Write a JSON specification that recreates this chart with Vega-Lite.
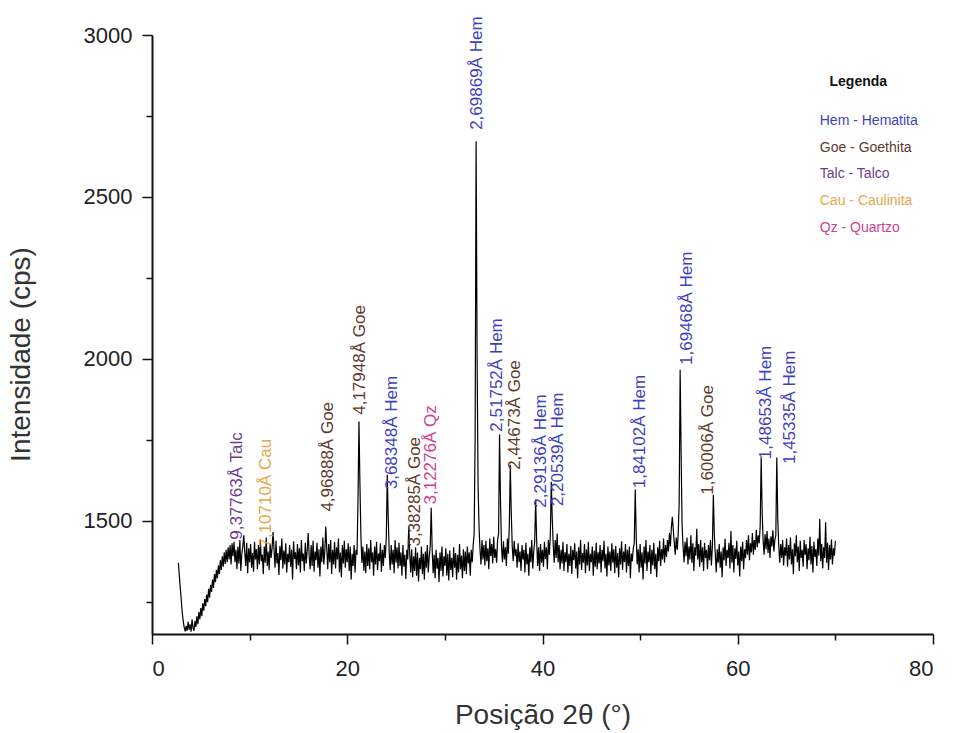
{
"$schema": "https://vega.github.io/schema/vega-lite/v6.json",
"width": 781,
"height": 599,
"autosize": {"type": "none"},
"padding": {"left": 152, "top": 35, "right": 22, "bottom": 99},
"background": "white",
"config": {"view": {"stroke": null}, "font": "Liberation Sans"},
"datasets": {
"spectrum": [
{"t":2.7,"v":1370},{"t":2.8,"v":1330},{"t":2.9,"v":1290},{"t":3.0,"v":1255},{"t":3.1,"v":1215},{"t":3.2,"v":1190},{"t":3.3,"v":1170},{"t":3.4,"v":1158},{"t":3.5,"v":1175},{"t":3.6,"v":1160},{"t":3.7,"v":1188},{"t":3.8,"v":1163},{"t":3.9,"v":1180},{"t":4.0,"v":1157},{"t":4.1,"v":1195},{"t":4.2,"v":1168},{"t":4.3,"v":1160},{"t":4.4,"v":1190},{"t":4.5,"v":1172},{"t":4.6,"v":1205},{"t":4.7,"v":1180},{"t":4.8,"v":1218},{"t":4.9,"v":1196},{"t":5.0,"v":1230},{"t":5.1,"v":1205},{"t":5.2,"v":1245},{"t":5.3,"v":1222},{"t":5.4,"v":1258},{"t":5.5,"v":1236},{"t":5.6,"v":1272},{"t":5.7,"v":1248},{"t":5.8,"v":1290},{"t":5.9,"v":1262},{"t":6.0,"v":1302},{"t":6.1,"v":1280},{"t":6.2,"v":1318},{"t":6.3,"v":1292},{"t":6.4,"v":1335},{"t":6.5,"v":1310},{"t":6.6,"v":1348},{"t":6.7,"v":1322},{"t":6.8,"v":1362},{"t":6.9,"v":1335},{"t":7.0,"v":1378},{"t":7.1,"v":1348},{"t":7.2,"v":1390},{"t":7.3,"v":1358},{"t":7.4,"v":1402},{"t":7.5,"v":1366},{"t":7.6,"v":1410},{"t":7.7,"v":1372},{"t":7.8,"v":1418},{"t":7.9,"v":1380},{"t":8.0,"v":1425},{"t":8.1,"v":1365},{"t":8.2,"v":1430},{"t":8.3,"v":1390},{"t":8.4,"v":1435},{"t":8.5,"v":1372},
{"t":8.6,"v":1410},{"t":8.7,"v":1350},{"t":8.8,"v":1420},{"t":8.9,"v":1368},{"t":9.0,"v":1440},{"t":9.1,"v":1345},{"t":9.2,"v":1398},{"t":9.3,"v":1420},{"t":9.4,"v":1455},{"t":9.5,"v":1405},{"t":9.6,"v":1360},{"t":9.7,"v":1432},{"t":9.8,"v":1338},{"t":9.9,"v":1415},{"t":10.0,"v":1372},{"t":10.1,"v":1428},{"t":10.2,"v":1355},{"t":10.3,"v":1400},{"t":10.4,"v":1342},{"t":10.5,"v":1435},{"t":10.6,"v":1380},{"t":10.7,"v":1412},{"t":10.8,"v":1350},{"t":10.9,"v":1425},{"t":11.0,"v":1365},{"t":11.1,"v":1440},{"t":11.2,"v":1375},{"t":11.3,"v":1395},{"t":11.4,"v":1335},{"t":11.5,"v":1420},{"t":11.6,"v":1370},{"t":11.7,"v":1448},{"t":11.8,"v":1360},{"t":11.9,"v":1405},{"t":12.0,"v":1348},{"t":12.1,"v":1430},{"t":12.2,"v":1385},{"t":12.3,"v":1415},{"t":12.4,"v":1465},{"t":12.5,"v":1410},{"t":12.6,"v":1355},{"t":12.7,"v":1438},{"t":12.8,"v":1368},{"t":12.9,"v":1400},{"t":13.0,"v":1332},{"t":13.1,"v":1422},{"t":13.2,"v":1378},{"t":13.3,"v":1445},{"t":13.4,"v":1352},{"t":13.5,"v":1408},{"t":13.6,"v":1365},{"t":13.7,"v":1430},{"t":13.8,"v":1340},{"t":13.9,"v":1398},{"t":14.0,"v":1372},{"t":14.1,"v":1425},{"t":14.2,"v":1358},{"t":14.3,"v":1410},{"t":14.4,"v":1318},{"t":14.5,"v":1436},{"t":14.6,"v":1382},{"t":14.7,"v":1402},{"t":14.8,"v":1350},{"t":14.9,"v":1428},{"t":15.0,"v":1362},{"t":15.1,"v":1415},{"t":15.2,"v":1340},{"t":15.3,"v":1440},{"t":15.4,"v":1375},{"t":15.5,"v":1398},{"t":15.6,"v":1345},{"t":15.7,"v":1432},{"t":15.8,"v":1368},{"t":15.9,"v":1410},{"t":16.0,"v":1462},{"t":16.1,"v":1390},{"t":16.2,"v":1350},{"t":16.3,"v":1425},{"t":16.4,"v":1360},{"t":16.5,"v":1438},{"t":16.6,"v":1342},{"t":16.7,"v":1405},{"t":16.8,"v":1378},{"t":16.9,"v":1432},{"t":17.0,"v":1355},{"t":17.1,"v":1412},{"t":17.2,"v":1328},{"t":17.3,"v":1420},{"t":17.4,"v":1372},{"t":17.5,"v":1448},{"t":17.6,"v":1365},{"t":17.7,"v":1405},{"t":17.8,"v":1482},{"t":17.9,"v":1415},{"t":18.0,"v":1350},{"t":18.1,"v":1428},{"t":18.2,"v":1372},{"t":18.3,"v":1440},{"t":18.4,"v":1335},{"t":18.5,"v":1410},{"t":18.6,"v":1365},{"t":18.7,"v":1435},{"t":18.8,"v":1352},{"t":18.9,"v":1418},{"t":19.0,"v":1380},{"t":19.1,"v":1445},{"t":19.2,"v":1340},{"t":19.3,"v":1402},{"t":19.4,"v":1325},{"t":19.5,"v":1425},{"t":19.6,"v":1368},{"t":19.7,"v":1438},{"t":19.8,"v":1355},{"t":19.9,"v":1412},{"t":20.0,"v":1372},{"t":20.1,"v":1430},{"t":20.2,"v":1345},{"t":20.3,"v":1420},{"t":20.4,"v":1318},{"t":20.5,"v":1398},{"t":20.6,"v":1360},{"t":20.7,"v":1425},{"t":20.8,"v":1340},{"t":20.9,"v":1410},
{"t":21.0,"v":1395},{"t":21.1,"v":1560},{"t":21.2,"v":1806},{"t":21.3,"v":1610},{"t":21.4,"v":1450},{"t":21.5,"v":1370},{"t":21.6,"v":1420},{"t":21.7,"v":1345},{"t":21.8,"v":1405},{"t":21.9,"v":1338},{"t":22.0,"v":1428},{"t":22.1,"v":1360},{"t":22.2,"v":1415},{"t":22.3,"v":1350},{"t":22.4,"v":1440},{"t":22.5,"v":1372},{"t":22.6,"v":1402},{"t":22.7,"v":1330},{"t":22.8,"v":1420},{"t":22.9,"v":1365},{"t":23.0,"v":1435},{"t":23.1,"v":1348},{"t":23.2,"v":1398},{"t":23.3,"v":1375},{"t":23.4,"v":1430},{"t":23.5,"v":1342},{"t":23.6,"v":1410},{"t":23.7,"v":1360},{"t":23.8,"v":1425},{"t":23.9,"v":1385},{"t":24.0,"v":1450},{"t":24.1,"v":1642},{"t":24.2,"v":1505},{"t":24.3,"v":1400},{"t":24.4,"v":1348},{"t":24.5,"v":1425},{"t":24.6,"v":1365},{"t":24.7,"v":1410},{"t":24.8,"v":1338},{"t":24.9,"v":1440},{"t":25.0,"v":1370},{"t":25.1,"v":1418},{"t":25.2,"v":1352},{"t":25.3,"v":1432},{"t":25.4,"v":1360},{"t":25.5,"v":1402},{"t":25.6,"v":1330},{"t":25.7,"v":1425},{"t":25.8,"v":1358},{"t":25.9,"v":1395},{"t":26.0,"v":1320},{"t":26.1,"v":1410},{"t":26.2,"v":1380},{"t":26.3,"v":1482},{"t":26.4,"v":1398},{"t":26.5,"v":1340},{"t":26.6,"v":1412},{"t":26.7,"v":1325},{"t":26.8,"v":1390},{"t":26.9,"v":1345},{"t":27.0,"v":1418},{"t":27.1,"v":1330},{"t":27.2,"v":1402},{"t":27.3,"v":1312},{"t":27.4,"v":1385},{"t":27.5,"v":1350},{"t":27.6,"v":1420},{"t":27.7,"v":1335},{"t":27.8,"v":1398},{"t":27.9,"v":1318},{"t":28.0,"v":1405},{"t":28.1,"v":1355},{"t":28.2,"v":1425},{"t":28.3,"v":1340},{"t":28.4,"v":1390},{"t":28.5,"v":1420},{"t":28.6,"v":1540},{"t":28.7,"v":1410},{"t":28.8,"v":1338},{"t":28.9,"v":1395},{"t":29.0,"v":1322},{"t":29.1,"v":1410},{"t":29.2,"v":1352},{"t":29.3,"v":1385},{"t":29.4,"v":1310},{"t":29.5,"v":1402},{"t":29.6,"v":1345},{"t":29.7,"v":1420},{"t":29.8,"v":1328},{"t":29.9,"v":1390},{"t":30.0,"v":1360},{"t":30.1,"v":1415},{"t":30.2,"v":1330},{"t":30.3,"v":1398},{"t":30.4,"v":1315},{"t":30.5,"v":1408},{"t":30.6,"v":1348},{"t":30.7,"v":1385},{"t":30.8,"v":1325},{"t":30.9,"v":1418},{"t":31.0,"v":1355},{"t":31.1,"v":1400},{"t":31.2,"v":1318},{"t":31.3,"v":1395},{"t":31.4,"v":1340},{"t":31.5,"v":1428},{"t":31.6,"v":1350},{"t":31.7,"v":1392},{"t":31.8,"v":1322},{"t":31.9,"v":1412},{"t":32.0,"v":1345},{"t":32.1,"v":1405},{"t":32.2,"v":1335},{"t":32.3,"v":1420},{"t":32.4,"v":1368},{"t":32.5,"v":1402},{"t":32.6,"v":1330},{"t":32.7,"v":1410},{"t":32.8,"v":1372},{"t":32.9,"v":1425},
{"t":33.0,"v":1460},{"t":33.1,"v":1760},{"t":33.2,"v":2672},{"t":33.3,"v":2010},{"t":33.4,"v":1610},{"t":33.5,"v":1480},{"t":33.6,"v":1410},{"t":33.7,"v":1365},{"t":33.8,"v":1440},{"t":33.9,"v":1380},{"t":34.0,"v":1425},{"t":34.1,"v":1362},{"t":34.2,"v":1438},{"t":34.3,"v":1375},{"t":34.4,"v":1415},{"t":34.5,"v":1350},{"t":34.6,"v":1445},{"t":34.7,"v":1390},{"t":34.8,"v":1428},{"t":34.9,"v":1368},{"t":35.0,"v":1450},{"t":35.1,"v":1385},{"t":35.2,"v":1412},{"t":35.3,"v":1370},{"t":35.4,"v":1440},{"t":35.5,"v":1460},{"t":35.6,"v":1766},{"t":35.7,"v":1560},{"t":35.8,"v":1420},{"t":35.9,"v":1372},{"t":36.0,"v":1436},{"t":36.1,"v":1380},{"t":36.2,"v":1418},{"t":36.3,"v":1360},{"t":36.4,"v":1445},{"t":36.5,"v":1398},{"t":36.6,"v":1485},{"t":36.7,"v":1673},{"t":36.8,"v":1525},{"t":36.9,"v":1420},{"t":37.0,"v":1375},{"t":37.1,"v":1438},{"t":37.2,"v":1390},{"t":37.3,"v":1412},{"t":37.4,"v":1355},{"t":37.5,"v":1430},{"t":37.6,"v":1372},{"t":37.7,"v":1405},{"t":37.8,"v":1345},{"t":37.9,"v":1425},{"t":38.0,"v":1380},{"t":38.1,"v":1410},{"t":38.2,"v":1340},{"t":38.3,"v":1432},{"t":38.4,"v":1365},{"t":38.5,"v":1398},{"t":38.6,"v":1330},{"t":38.7,"v":1418},{"t":38.8,"v":1372},{"t":38.9,"v":1440},{"t":39.0,"v":1352},{"t":39.1,"v":1405},{"t":39.2,"v":1435},{"t":39.3,"v":1565},{"t":39.4,"v":1440},{"t":39.5,"v":1360},{"t":39.6,"v":1418},{"t":39.7,"v":1345},{"t":39.8,"v":1428},{"t":39.9,"v":1370},{"t":40.0,"v":1410},{"t":40.1,"v":1358},{"t":40.2,"v":1435},{"t":40.3,"v":1382},{"t":40.4,"v":1418},{"t":40.5,"v":1350},{"t":40.6,"v":1440},{"t":40.7,"v":1395},{"t":40.8,"v":1455},{"t":40.9,"v":1620},{"t":41.0,"v":1505},{"t":41.1,"v":1425},{"t":41.2,"v":1370},{"t":41.3,"v":1440},{"t":41.4,"v":1385},{"t":41.5,"v":1460},{"t":41.6,"v":1372},{"t":41.7,"v":1425},{"t":41.8,"v":1350},{"t":41.9,"v":1410},
{"t":42.0,"v":1368},{"t":42.1,"v":1435},{"t":42.2,"v":1345},{"t":42.3,"v":1402},{"t":42.4,"v":1372},{"t":42.5,"v":1428},{"t":42.6,"v":1340},{"t":42.7,"v":1398},{"t":42.8,"v":1360},{"t":42.9,"v":1422},{"t":43.0,"v":1335},{"t":43.1,"v":1410},{"t":43.2,"v":1378},{"t":43.3,"v":1430},{"t":43.4,"v":1352},{"t":43.5,"v":1405},{"t":43.6,"v":1322},{"t":43.7,"v":1418},{"t":43.8,"v":1365},{"t":43.9,"v":1440},{"t":44.0,"v":1348},{"t":44.1,"v":1400},{"t":44.2,"v":1370},{"t":44.3,"v":1428},{"t":44.4,"v":1338},{"t":44.5,"v":1412},{"t":44.6,"v":1362},{"t":44.7,"v":1435},{"t":44.8,"v":1345},{"t":44.9,"v":1398},{"t":45.0,"v":1372},{"t":45.1,"v":1420},{"t":45.2,"v":1330},{"t":45.3,"v":1408},{"t":45.4,"v":1358},{"t":45.5,"v":1432},{"t":45.6,"v":1350},{"t":45.7,"v":1402},{"t":45.8,"v":1368},{"t":45.9,"v":1425},{"t":46.0,"v":1340},{"t":46.1,"v":1410},{"t":46.2,"v":1375},{"t":46.3,"v":1438},{"t":46.4,"v":1352},{"t":46.5,"v":1398},{"t":46.6,"v":1328},{"t":46.7,"v":1420},{"t":46.8,"v":1362},{"t":46.9,"v":1405},{"t":47.0,"v":1345},{"t":47.1,"v":1430},{"t":47.2,"v":1370},{"t":47.3,"v":1412},{"t":47.4,"v":1338},{"t":47.5,"v":1422},{"t":47.6,"v":1355},{"t":47.7,"v":1400},{"t":47.8,"v":1325},{"t":47.9,"v":1415},{"t":48.0,"v":1365},{"t":48.1,"v":1436},{"t":48.2,"v":1348},{"t":48.3,"v":1405},{"t":48.4,"v":1372},{"t":48.5,"v":1428},{"t":48.6,"v":1340},{"t":48.7,"v":1410},{"t":48.8,"v":1360},{"t":48.9,"v":1420},{"t":49.0,"v":1322},{"t":49.1,"v":1398},{"t":49.2,"v":1375},{"t":49.3,"v":1415},{"t":49.4,"v":1430},{"t":49.5,"v":1596},{"t":49.6,"v":1450},{"t":49.7,"v":1365},{"t":49.8,"v":1412},{"t":49.9,"v":1340},{"t":50.0,"v":1428},{"t":50.1,"v":1355},{"t":50.2,"v":1402},{"t":50.3,"v":1318},{"t":50.4,"v":1420},{"t":50.5,"v":1368},{"t":50.6,"v":1440},{"t":50.7,"v":1345},{"t":50.8,"v":1405},{"t":50.9,"v":1372},{"t":51.0,"v":1425},{"t":51.1,"v":1335},{"t":51.2,"v":1410},{"t":51.3,"v":1362},{"t":51.4,"v":1432},{"t":51.5,"v":1350},{"t":51.6,"v":1398},{"t":51.7,"v":1325},{"t":51.8,"v":1418},{"t":51.9,"v":1375},
{"t":52.0,"v":1438},{"t":52.1,"v":1360},{"t":52.2,"v":1412},{"t":52.3,"v":1380},{"t":52.4,"v":1445},{"t":52.5,"v":1370},{"t":52.6,"v":1425},{"t":52.7,"v":1388},{"t":52.8,"v":1440},{"t":52.9,"v":1405},{"t":53.0,"v":1462},{"t":53.1,"v":1420},{"t":53.2,"v":1478},{"t":53.3,"v":1512},{"t":53.4,"v":1470},{"t":53.5,"v":1430},{"t":53.6,"v":1395},{"t":53.7,"v":1448},{"t":53.8,"v":1410},{"t":53.9,"v":1460},{"t":54.0,"v":1555},{"t":54.1,"v":1966},{"t":54.2,"v":1705},{"t":54.3,"v":1485},{"t":54.4,"v":1420},{"t":54.5,"v":1372},{"t":54.6,"v":1435},{"t":54.7,"v":1390},{"t":54.8,"v":1448},{"t":54.9,"v":1365},{"t":55.0,"v":1420},{"t":55.1,"v":1380},{"t":55.2,"v":1455},{"t":55.3,"v":1370},{"t":55.4,"v":1430},{"t":55.5,"v":1345},{"t":55.6,"v":1418},{"t":55.7,"v":1392},{"t":55.8,"v":1475},{"t":55.9,"v":1380},{"t":56.0,"v":1428},{"t":56.1,"v":1358},{"t":56.2,"v":1440},{"t":56.3,"v":1372},{"t":56.4,"v":1418},{"t":56.5,"v":1345},{"t":56.6,"v":1432},{"t":56.7,"v":1385},{"t":56.8,"v":1410},{"t":56.9,"v":1350},{"t":57.0,"v":1425},{"t":57.1,"v":1378},{"t":57.2,"v":1440},{"t":57.3,"v":1362},{"t":57.4,"v":1420},{"t":57.5,"v":1580},{"t":57.6,"v":1455},{"t":57.7,"v":1395},{"t":57.8,"v":1340},{"t":57.9,"v":1412},{"t":58.0,"v":1370},{"t":58.1,"v":1428},{"t":58.2,"v":1355},{"t":58.3,"v":1405},{"t":58.4,"v":1325},{"t":58.5,"v":1418},{"t":58.6,"v":1378},{"t":58.7,"v":1445},{"t":58.8,"v":1360},{"t":58.9,"v":1410},{"t":59.0,"v":1385},{"t":59.1,"v":1432},{"t":59.2,"v":1352},{"t":59.3,"v":1468},{"t":59.4,"v":1370},{"t":59.5,"v":1425},{"t":59.6,"v":1340},{"t":59.7,"v":1415},{"t":59.8,"v":1382},{"t":59.9,"v":1438},{"t":60.0,"v":1362},{"t":60.1,"v":1405},{"t":60.2,"v":1328},{"t":60.3,"v":1420},{"t":60.4,"v":1375},{"t":60.5,"v":1435},{"t":60.6,"v":1350},{"t":60.7,"v":1412},{"t":60.8,"v":1385},{"t":60.9,"v":1440},
{"t":61.0,"v":1395},{"t":61.1,"v":1455},{"t":61.2,"v":1378},{"t":61.3,"v":1430},{"t":61.4,"v":1402},{"t":61.5,"v":1462},{"t":61.6,"v":1395},{"t":61.7,"v":1440},{"t":61.8,"v":1410},{"t":61.9,"v":1472},{"t":62.0,"v":1418},{"t":62.1,"v":1455},{"t":62.2,"v":1430},{"t":62.3,"v":1485},{"t":62.4,"v":1695},{"t":62.5,"v":1525},{"t":62.6,"v":1440},{"t":62.7,"v":1395},{"t":62.8,"v":1458},{"t":62.9,"v":1412},{"t":63.0,"v":1468},{"t":63.1,"v":1400},{"t":63.2,"v":1445},{"t":63.3,"v":1385},{"t":63.4,"v":1452},{"t":63.5,"v":1420},{"t":63.6,"v":1470},{"t":63.7,"v":1405},{"t":63.8,"v":1440},{"t":63.9,"v":1455},{"t":64.0,"v":1695},{"t":64.1,"v":1505},{"t":64.2,"v":1420},{"t":64.3,"v":1370},{"t":64.4,"v":1428},{"t":64.5,"v":1385},{"t":64.6,"v":1440},{"t":64.7,"v":1362},{"t":64.8,"v":1418},{"t":64.9,"v":1392},{"t":65.0,"v":1445},{"t":65.1,"v":1358},{"t":65.2,"v":1425},{"t":65.3,"v":1380},{"t":65.4,"v":1448},{"t":65.5,"v":1365},{"t":65.6,"v":1412},{"t":65.7,"v":1335},{"t":65.8,"v":1430},{"t":65.9,"v":1390},{"t":66.0,"v":1455},{"t":66.1,"v":1372},{"t":66.2,"v":1420},{"t":66.3,"v":1345},{"t":66.4,"v":1438},{"t":66.5,"v":1385},{"t":66.6,"v":1410},{"t":66.7,"v":1358},{"t":66.8,"v":1440},{"t":66.9,"v":1395},{"t":67.0,"v":1428},{"t":67.1,"v":1350},{"t":67.2,"v":1415},{"t":67.3,"v":1378},{"t":67.4,"v":1450},{"t":67.5,"v":1365},{"t":67.6,"v":1422},{"t":67.7,"v":1340},{"t":67.8,"v":1435},{"t":67.9,"v":1388},{"t":68.0,"v":1412},{"t":68.1,"v":1360},{"t":68.2,"v":1445},{"t":68.3,"v":1392},{"t":68.4,"v":1505},{"t":68.5,"v":1375},{"t":68.6,"v":1428},{"t":68.7,"v":1352},{"t":68.8,"v":1418},{"t":68.9,"v":1385},{"t":69.0,"v":1495},{"t":69.1,"v":1370},{"t":69.2,"v":1432},{"t":69.3,"v":1348},{"t":69.4,"v":1425},{"t":69.5,"v":1380},{"t":69.6,"v":1442},{"t":69.7,"v":1365},{"t":69.8,"v":1415},{"t":69.9,"v":1392},{"t":70.0,"v":1438}
],
"peaks": [
{"t":8.7,"v":1441,"label":"9,37763Å Talc","phase":"Talc"},
{"t":11.7,"v":1417,"label":"7,10710Å Cau","phase":"Cau"},
{"t":18.0,"v":1528,"label":"4,96888Å Goe","phase":"Goe"},
{"t":21.3,"v":1827,"label":"4,17948Å Goe","phase":"Goe"},
{"t":24.6,"v":1597,"label":"3,68348Å Hem","phase":"Hem"},
{"t":26.9,"v":1420,"label":"3,38285Å Goe","phase":"Goe"},
{"t":28.6,"v":1550,"label":"3,12276Å Qz","phase":"Qz"},
{"t":33.3,"v":2707,"label":"2,69869Å Hem","phase":"Hem"},
{"t":35.3,"v":1775,"label":"2,51752Å Hem","phase":"Hem"},
{"t":37.2,"v":1657,"label":"2,44673Å Goe","phase":"Goe"},
{"t":39.8,"v":1540,"label":"2,29136Å Hem","phase":"Hem"},
{"t":41.6,"v":1545,"label":"2,20539Å Hem","phase":"Hem"},
{"t":50.0,"v":1600,"label":"1,84102Å Hem","phase":"Hem"},
{"t":54.8,"v":1981,"label":"1,69468Å Hem","phase":"Hem"},
{"t":57.0,"v":1580,"label":"1,60006Å Goe","phase":"Goe"},
{"t":62.9,"v":1690,"label":"1,48653Å Hem","phase":"Hem"},
{"t":65.4,"v":1675,"label":"1,45335Å Hem","phase":"Hem"}
],
"legendTitle": [
{"t":69.4,"v":2855,"label":"Legenda"}
],
"legendItems": [
{"t":68.4,"v":2734,"label":"Hem - Hematita","phase":"Hem"},
{"t":68.4,"v":2651,"label":"Goe - Goethita","phase":"Goe"},
{"t":68.4,"v":2571,"label":"Talc - Talco","phase":"Talc"},
{"t":68.4,"v":2487,"label":"Cau - Caulinita","phase":"Cau"},
{"t":68.4,"v":2404,"label":"Qz - Quartzo","phase":"Qz"}
]
},
"encoding": {
"x": {
"field": "t", "type": "quantitative",
"scale": {"domain": [0, 80], "nice": false, "zero": false},
"axis": {
"values": [0, 10, 20, 30, 40, 50, 60, 70, 80],
"format": "d",
"labelExpr": "datum.value % 20 === 0 ? datum.label : ''",
"grid": false,
"domainColor": "#111", "domainWidth": 2,
"tickColor": "#111", "tickWidth": 1.5,
"tickSize": {"condition": {"test": "datum.value % 20 !== 0", "value": 6}, "value": 10},
"labelFontSize": 22, "labelColor": "#222", "labelPadding": 14,
"title": "Posição 2θ (°)",
"titleFontSize": 28, "titleFontWeight": "normal", "titleColor": "#333", "titlePadding": 22
}
},
"y": {
"field": "v", "type": "quantitative",
"scale": {"domain": [1150, 3000], "nice": false, "zero": false},
"axis": {
"values": [1250, 1500, 1750, 2000, 2250, 2500, 2750, 3000],
"format": "d",
"labelExpr": "datum.value % 500 === 0 ? datum.label : ''",
"grid": false,
"domainColor": "#111", "domainWidth": 2,
"tickColor": "#111", "tickWidth": 1.5,
"tickSize": {"condition": {"test": "datum.value % 500 !== 0", "value": 6}, "value": 10},
"labelFontSize": 22, "labelColor": "#222", "labelPadding": 10,
"title": "Intensidade (cps)",
"titleFontSize": 28, "titleFontWeight": "normal", "titleColor": "#333",
"titleX": -117, "titleY": 319
}
}
},
"layer": [
{
"data": {"name": "spectrum"},
"mark": {"type": "line", "color": "#000", "strokeWidth": 1.2},
"encoding": {}
},
{
"data": {"name": "peaks"},
"mark": {"type": "text", "angle": 270, "align": "left", "baseline": "middle", "fontSize": 17},
"encoding": {
"text": {"field": "label"},
"color": {"field": "phase", "type": "nominal", "legend": null,
"scale": {"domain": ["Hem", "Goe", "Talc", "Cau", "Qz"], "range": ["#3f3fbf", "#5e3a2e", "#6e3c8e", "#e3a84a", "#cf3f95"]}}
}
},
{
"data": {"name": "legendTitle"},
"mark": {"type": "text", "align": "left", "baseline": "middle", "fontSize": 14, "fontWeight": "bold", "color": "#111"},
"encoding": {"text": {"field": "label"}}
},
{
"data": {"name": "legendItems"},
"mark": {"type": "text", "align": "left", "baseline": "middle", "fontSize": 14},
"encoding": {
"text": {"field": "label"},
"color": {"field": "phase", "type": "nominal", "legend": null}
}
}
]
}
